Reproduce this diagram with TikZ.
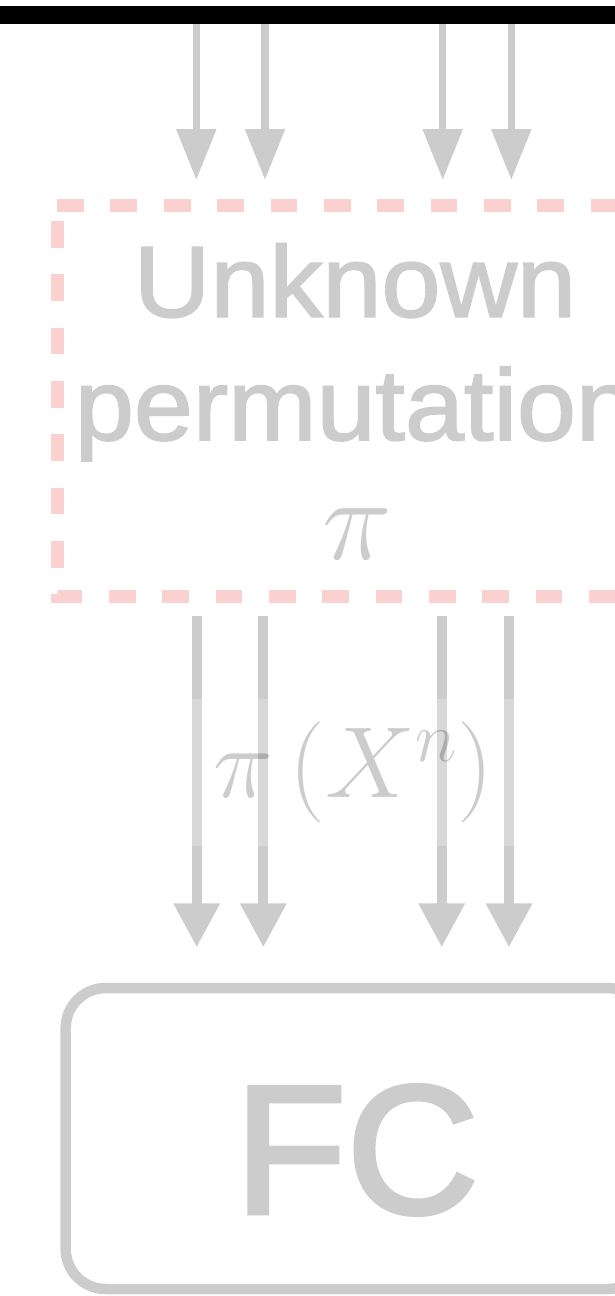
\RequirePackage{fix-cm}
\documentclass[tikz,border=0pt]{standalone}
\usepackage{fontspec}
\usetikzlibrary{arrows.meta}
\newfontfamily\sansf[FakeBold=2.5]{Liberation Sans}
\newfontfamily\sanswide[FakeStretch=1.05,FakeBold=1.8]{Liberation Sans}
\definecolor{lg}{HTML}{CCCCCC}
\definecolor{pk}{RGB}{250,209,206}
\tikzset{
  toparrow/.style={draw=lg, line width=7.3pt, -{Triangle[length=51pt,width=38.5pt]}, shorten >=25.5pt},
  botarrow/.style={draw=lg, line width=10pt, -{Triangle[length=44pt,width=44pt]}, shorten <=19.7pt, shorten >=40.7pt},
  pinkdash/.style={draw=pk, line width=13pt, dash pattern=on 26.67pt off 26.67pt, dash phase=37.9pt},
  boxtext/.style={text=lg, inner sep=0pt, outer sep=0pt, anchor=base},
  labelbg/.style={fill=white, fill opacity=0.25, text=black, text opacity=0.2, inner sep=0pt, outer sep=0pt, minimum width=346pt, minimum height=147pt},
  fcbox/.style={draw=lg, line width=10.5pt, rounded corners=40pt, minimum width=582pt, minimum height=301pt, inner sep=0pt, outer sep=0pt, text=lg, text height=149pt, text depth=0pt, font=\sansf\fontsize{183}{200}\selectfont}
}
\begin{document}
\begin{tikzpicture}[x=1pt,y=-1pt]
\useasboundingbox (0,0) rectangle (614,1296);
% top bar
\node[fill=black, inner sep=0pt, outer sep=0pt, minimum width=680pt, minimum height=18pt] (bar) at (307,15) {};
% permutation box
\node[inner sep=0pt, outer sep=0pt, minimum width=590.6pt, minimum height=390.5pt] (perm) at (352.6,400.75) {};
\draw[pinkdash] (perm.north west) -- (perm.south west) -- (perm.south east) -- (perm.north east) -- cycle;
\node[boxtext] (unk) at (355,316.7) {\sanswide\fontsize{101}{120}\selectfont Unknown};
\node[boxtext] (perw) at (355,440) {\sanswide\fontsize{101}{120}\selectfont permutation};
\node[boxtext] (pisym) at (357,559) {\fontsize{118}{140}\selectfont$\pi$};
% FC box
\node[fcbox] (fc) at (356.7,1138.5) {FC};
% x positions
\coordinate (t1) at (196.3,100);
\coordinate (t2) at (265,100);
\coordinate (t3) at (442.7,100);
\coordinate (t4) at (511.3,100);
\coordinate (b1) at (196.7,800);
\coordinate (b2) at (263.3,800);
\coordinate (b3) at (441.7,800);
\coordinate (b4) at (509,800);
% top arrows
\foreach \i in {1,2,3,4}{
  \draw[toparrow] (t\i |- bar.south) -- (t\i |- perm.north);
}
% bottom arrows
\foreach \i in {1,2,3,4}{
  \draw[botarrow] (b\i |- perm.south) -- (b\i |- fc.north);
}
% label
\node[labelbg] (lab) at (353,772.5) {\fontsize{101}{120}\selectfont$\pi\left(X^{n}\right)$};
\end{tikzpicture}
\end{document}
